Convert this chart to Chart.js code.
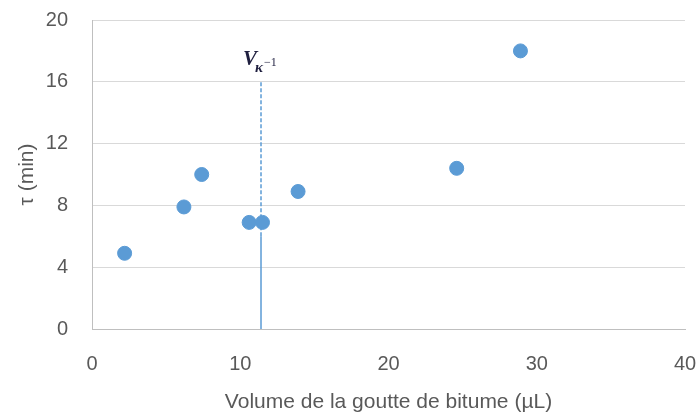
<!DOCTYPE html>
<html><head><meta charset="utf-8">
<script src="https://cdn.jsdelivr.net/npm/chart.js@4"></script>
<style>html,body{margin:0;padding:0;background:#fff}#wrap{width:700px;height:415px}</style>
</head><body><div id="wrap"><canvas id="c" width="700" height="415"></canvas></div>
<script>
const volumes = [2.2, 6.2, 7.4, 10.6, 11.5, 13.9, 24.6, 28.9];
const taus = [4.9, 7.9, 10, 6.9, 6.9, 8.9, 10.4, 18];
const criticalVolume = 11.4;
const solidSpan = [0, 6];
const dashedSpan = [6, 16];
const xTicks = [0, 10, 20, 30, 40];
const yTicks = [0, 4, 8, 12, 16, 20];
const markerLabel = { main: 'V', sub: 'κ', sup: '−1', y: 17.1 };

const blue = '#5B9BD5';
const txt = '#595959';
const font = 'Liberation Sans, Arial, sans-serif';
const clear = 'rgba(0,0,0,0)';

const labelPlugin = {
  id: 'vlabel',
  afterDatasetsDraw(chart) {
    const ctx = chart.ctx;
    const x = chart.scales.x.getPixelForValue(criticalVolume);
    const y = chart.scales.y.getPixelForValue(markerLabel.y);
    ctx.save();
    ctx.fillStyle = '#1f1f3f';
    ctx.textBaseline = 'alphabetic';
    ctx.font = 'italic bold 21px "Liberation Serif", "DejaVu Serif", serif';
    ctx.textAlign = 'left';
    const vx = x - 18;
    ctx.fillText(markerLabel.main, vx, y);
    const vw = ctx.measureText(markerLabel.main).width;
    ctx.font = 'italic bold 15px "Liberation Serif", "DejaVu Serif", serif';
    ctx.fillText(markerLabel.sub, vx + vw - 2, y + 7);
    const kw = ctx.measureText(markerLabel.sub).width;
    ctx.font = '12px "Liberation Serif", "DejaVu Serif", serif';
    ctx.fillText(markerLabel.sup, vx + vw + kw - 1, y + 1);
    ctx.restore();
  }
};

new Chart(document.getElementById('c'), {
  type: 'scatter',
  data: {
    datasets: [
      {
        data: volumes.map((v, i) => ({ x: v, y: taus[i] })),
        backgroundColor: blue, borderColor: blue,
        pointRadius: 7, pointHoverRadius: 7, order: 1
      },
      {
        type: 'line',
        data: solidSpan.map(t => ({ x: criticalVolume, y: t })),
        borderColor: blue, borderWidth: 1.5, pointRadius: 0, fill: false, order: 2
      },
      {
        type: 'line',
        data: dashedSpan.map(t => ({ x: criticalVolume, y: t })),
        borderColor: blue, borderWidth: 1.5, borderDash: [4, 2], pointRadius: 0, fill: false, order: 2
      }
    ]
  },
  options: {
    responsive: false,
    animation: false,
    events: [],
    layout: { padding: { left: 0, right: 15, top: 20, bottom: 0 } },
    plugins: { legend: { display: false }, tooltip: { enabled: false } },
    scales: {
      x: {
        type: 'linear', min: 0, max: 40,
        afterBuildTicks: s => { s.ticks = xTicks.map(v => ({ value: v })); },
        afterFit: s => { s.height = 86; },
        grid: { display: true, drawOnChartArea: false, color: clear, drawTicks: true, tickLength: 23, tickColor: clear },
        border: { display: true, color: '#BFBFBF', width: 1 },
        ticks: { color: txt, font: { family: font, size: 20 }, padding: 0 },
        title: { display: true, text: 'Volume de la goutte de bitume (µL)', color: txt, font: { family: font, size: 21 }, padding: { top: 3, bottom: 0 } }
      },
      y: {
        type: 'linear', min: 0, max: 20,
        afterBuildTicks: s => { s.ticks = yTicks.map(v => ({ value: v })); },
        afterFit: s => { s.width = 92; },
        grid: { color: '#D9D9D9', lineWidth: 1, drawTicks: true, tickLength: 24, tickColor: clear },
        border: { display: true, color: '#BFBFBF', width: 1 },
        ticks: { color: txt, font: { family: font, size: 20 }, padding: 0 },
        title: { display: true, text: 'τ (min)', color: txt, font: { family: font, size: 21 }, padding: { top: 15, bottom: 0 } }
      }
    }
  },
  plugins: [labelPlugin]
});
</script></body></html>
